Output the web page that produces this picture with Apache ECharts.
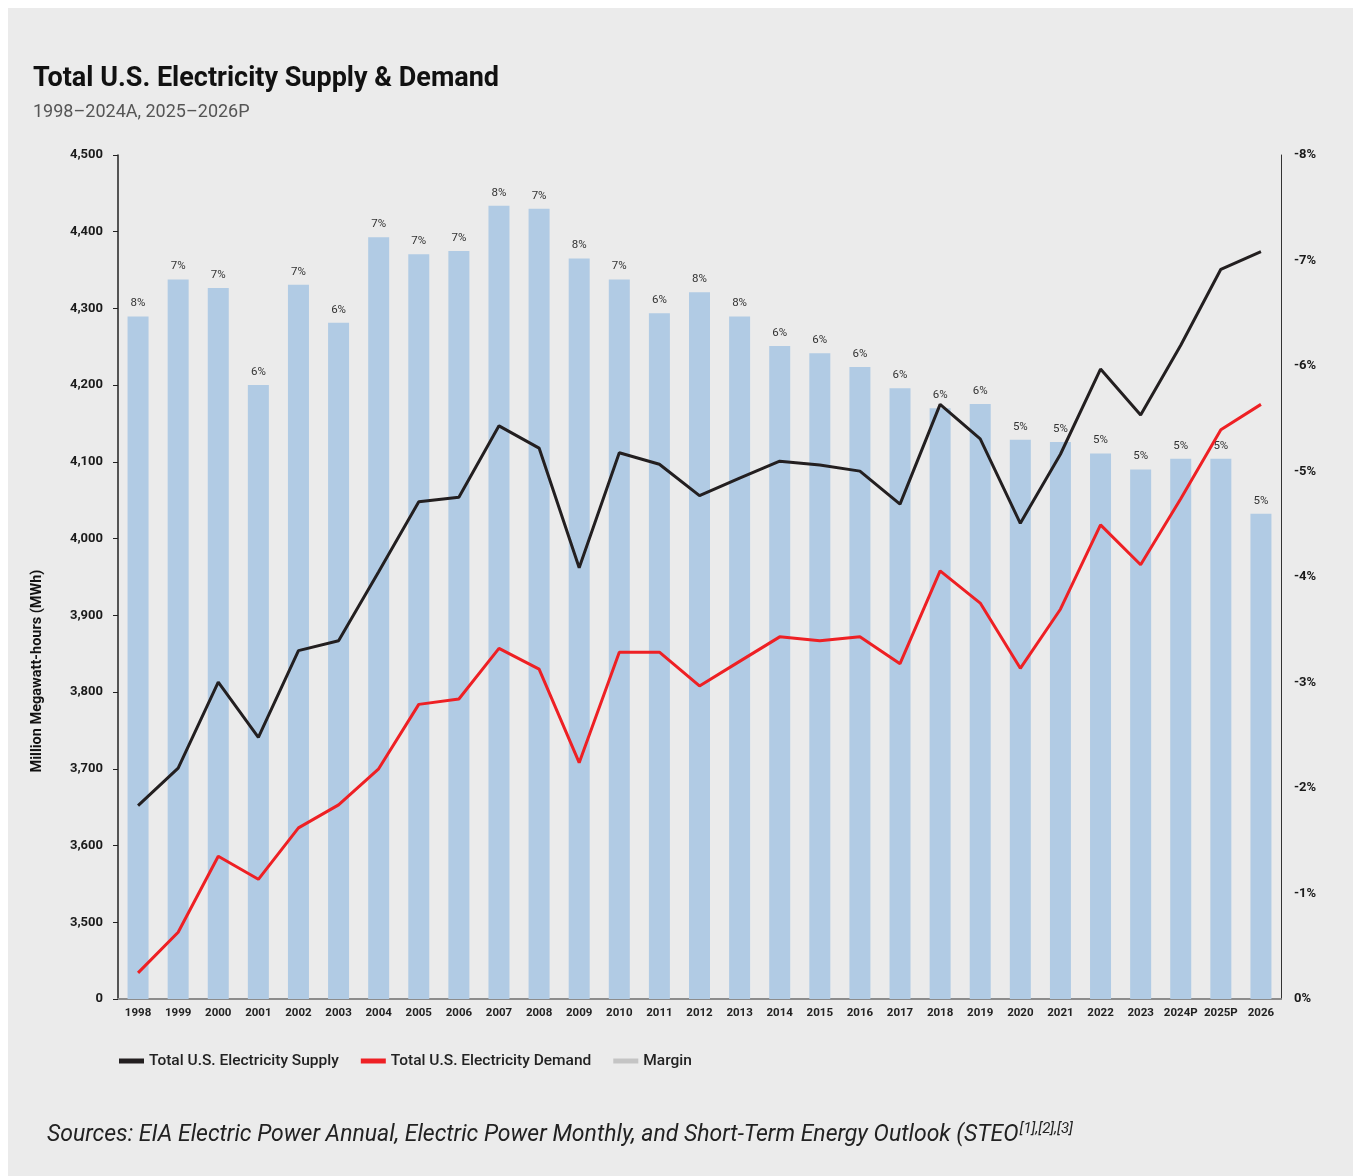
<!DOCTYPE html>
<html>
<head>
<meta charset="utf-8">
<title>Total U.S. Electricity Supply &amp; Demand</title>
<script src="https://cdn.jsdelivr.net/npm/echarts@6/dist/echarts.min.js"></script>
<style>
  html, body { margin: 0; padding: 0; background: #ffffff; }
  #panel { position: absolute; left: 8px; top: 8px; width: 1345px; height: 1168px; background: #ebebeb; }
  #chart { position: absolute; left: 0; top: 0; width: 1353px; height: 1176px; }
</style>
</head>
<body>
<div id="panel"></div>
<div id="chart"></div>
<script>
// Years (A = actual, P = projected)
const years = ['1998','1999','2000','2001','2002','2003','2004','2005','2006','2007',
  '2008','2009','2010','2011','2012','2013','2014','2015','2016','2017',
  '2018','2019','2020','2021','2022','2023','2024P','2025P','2026'];

// Total U.S. electricity supply, million MWh
const supply = [3652, 3701, 3813, 3741, 3854, 3867, 3957, 4048, 4054, 4147,
  4118, 3962, 4112, 4097, 4056, 4079, 4101, 4096, 4088, 4045,
  4175, 4130, 4020, 4110, 4221, 4161, 4252, 4351, 4374];

// Total U.S. electricity demand, million MWh
const demand = [3434, 3487, 3586, 3556, 3623, 3653, 3700, 3784, 3791, 3857,
  3830, 3708, 3852, 3852, 3808, 3840, 3872, 3867, 3872, 3837,
  3958, 3916, 3831, 3908, 4018, 3966, 4052, 4142, 4175];

// Margin bars, percent (plotted on the inverted right axis)
const margin = [-6.47, -6.82, -6.74, -5.82, -6.77, -6.41, -7.22, -7.06, -7.09, -7.52,
  -7.49, -7.02, -6.82, -6.50, -6.70, -6.47, -6.19, -6.12, -5.99, -5.79,
  -5.60, -5.64, -5.30, -5.28, -5.17, -5.02, -5.12, -5.12, -4.60];

// Margin labels printed above the bars
const marginLabels = ['8%','7%','7%','6%','7%','6%','7%','7%','7%','8%',
  '7%','8%','7%','6%','8%','8%','6%','6%','6%','6%',
  '6%','6%','5%','5%','5%','5%','5%','5%','5%'];

const FONT = 'Roboto, "Noto Sans", sans-serif';
const chart = echarts.init(document.getElementById('chart'), null, { renderer: 'canvas' });

chart.setOption({
  backgroundColor: 'transparent',
  animation: false,
  textStyle: { fontFamily: FONT },
  title: {
    text: 'Total U.S. Electricity Supply & Demand',
    subtext: '1998\u20132024A, 2025\u20132026P',
    left: 28,
    top: 61,
    itemGap: 10,
    textStyle: { fontFamily: FONT, fontSize: 27, fontWeight: 'bold', color: '#111111' },
    subtextStyle: { fontFamily: FONT, fontSize: 18, color: '#555555' }
  },
  grid: { left: 118, right: 72, top: 155, bottom: 177 },
  legend: {
    left: 114,
    top: 1048,
    itemWidth: 25,
    itemHeight: 5,
    itemGap: 22,
    icon: 'rect',
    textStyle: { fontFamily: FONT, fontSize: 15.5, fontWeight: 500, color: '#222222' },
    data: [
      { name: 'Total U.S. Electricity Supply' },
      { name: 'Total U.S. Electricity Demand' },
      { name: 'Margin', itemStyle: { color: '#c4c4c4' } }
    ]
  },
  xAxis: {
    type: 'category',
    data: years,
    boundaryGap: true,
    axisLine: { lineStyle: { color: '#8c8c8c', width: 2 } },
    axisTick: { show: false },
    axisLabel: { margin: 8, fontSize: 11.5, fontWeight: 'bold', color: '#222222', interval: 0 }
  },
  yAxis: [
    {
      type: 'value',
      min: 3400,
      max: 4500,
      interval: 100,
      axisLine: { show: true, lineStyle: { color: '#222222', width: 1.5 } },
      axisTick: { show: true, length: 5, lineStyle: { color: '#222222' } },
      splitLine: { show: false },
      axisLabel: {
        margin: 15,
        fontSize: 13,
        fontWeight: 'bold',
        color: '#1a1a1a',
        formatter: v => v === 3400 ? '0' : v.toLocaleString('en-US')
      }
    },
    {
      type: 'value',
      position: 'right',
      min: -8,
      max: 0,
      interval: 1,
      inverse: true,
      axisLine: { show: true, lineStyle: { color: '#333333', width: 1 } },
      axisTick: { show: false },
      splitLine: { show: false },
      axisLabel: {
        margin: 13,
        fontSize: 13,
        fontWeight: 'bold',
        color: '#1a1a1a',
        formatter: v => v + '%'
      }
    }
  ],
  graphic: [
    {
      type: 'text',
      x: 37,
      y: 671,
      rotation: Math.PI / 2,
      style: {
        text: 'Million Megawatt-hours (MWh)',
        font: 'bold 14.5px ' + FONT,
        fill: '#111111',
        align: 'center',
        verticalAlign: 'middle'
      }
    },
    {
      type: 'text',
      left: 47,
      top: 1122,
      style: {
        text: '{m|Sources: EIA Electric Power Annual, Electric Power Monthly, and Short-Term Energy Outlook (STEO}{s|[1],[2],[3]}',
        rich: {
          m: { font: 'italic 23px ' + FONT, fill: '#222222', verticalAlign: 'bottom' },
          s: { font: 'italic 15px ' + FONT, fill: '#222222', verticalAlign: 'top', padding: [0, 0, 10, 1] }
        }
      }
    }
  ],
  series: [
    {
      name: 'Margin',
      type: 'bar',
      yAxisIndex: 1,
      data: margin,
      barWidth: 21,
      itemStyle: { color: '#b1cbe4' },
      label: {
        show: true,
        position: 'top',
        distance: 7,
        fontSize: 11.5,
        color: '#333333',
        formatter: p => marginLabels[p.dataIndex]
      },
      z: 1
    },
    {
      name: 'Total U.S. Electricity Supply',
      type: 'line',
      data: supply,
      showSymbol: false,
      symbol: 'none',
      lineStyle: { color: '#231f20', width: 3 },
      itemStyle: { color: '#231f20' },
      z: 3
    },
    {
      name: 'Total U.S. Electricity Demand',
      type: 'line',
      data: demand,
      showSymbol: false,
      symbol: 'none',
      lineStyle: { color: '#ee2024', width: 3 },
      itemStyle: { color: '#ee2024' },
      z: 3
    }
  ]
});
</script>
</body>
</html>
